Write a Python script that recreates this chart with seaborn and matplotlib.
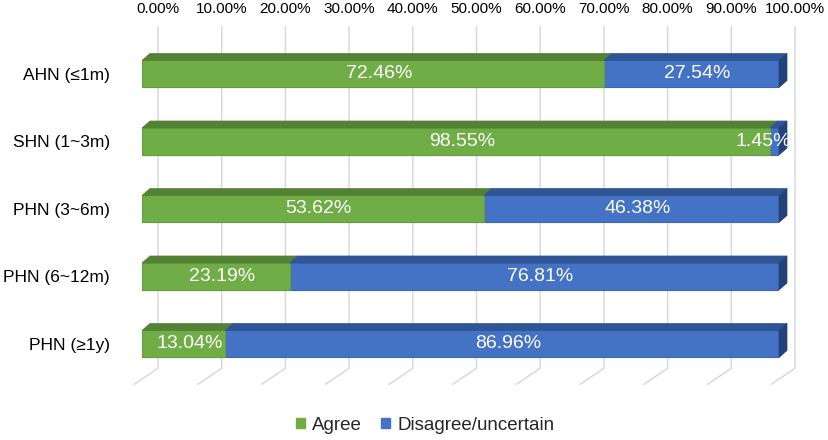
import matplotlib
matplotlib.use("Agg")
import matplotlib.pyplot as plt
import seaborn as sns
import pandas as pd
from matplotlib.patches import Polygon, Patch
from matplotlib.transforms import ScaledTranslation, offset_copy

# ---- data ----
categories = ["AHN (≤1m)", "SHN (1~3m)", "PHN (3~6m)", "PHN (6~12m)", "PHN (≥1y)"]
agree = [72.46, 98.55, 53.62, 23.19, 13.04]
disagree = [27.54, 1.45, 46.38, 76.81, 86.96]
series_names = ["Agree", "Disagree/uncertain"]
x_ticks = [0, 10, 20, 30, 40, 50, 60, 70, 80, 90, 100]
x_tick_labels = [f"{v:.2f}%" for v in x_ticks]

df = pd.DataFrame({"category": categories, "agree": agree, "disagree": disagree})
df["total"] = df["agree"] + df["disagree"]

# colours (Excel style)
GREEN, GREEN_TOP, GREEN_EDGE = "#70AD47", "#548235", "#63A03D"
BLUE, BLUE_TOP, BLUE_SIDE, BLUE_EDGE = "#4472C4", "#2F5597", "#24427A", "#3C68B8"
GRID = "#D9D9D9"

sns.set_style("white")
plt.rcParams["font.family"] = ["Liberation Sans", "DejaVu Sans"]

W, H = 829, 440
fig = plt.figure(figsize=(W / 100, H / 100), dpi=100)
# front plane of the bars
ax = fig.add_axes([142 / W, 1 - 400 / H, 637 / W, 380 / H])

BAR_W = 0.4
sns.barplot(data=df, x="total", y="category", orient="h", color=BLUE, saturation=1,
            width=BAR_W, edgecolor=BLUE_EDGE, linewidth=0.8, ax=ax, zorder=3)
sns.barplot(data=df, x="agree", y="category", orient="h", color=GREEN, saturation=1,
            width=BAR_W, edgecolor=GREEN_EDGE, linewidth=0.8, ax=ax, zorder=3)

n = len(categories)
ax.set_xlim(0, 100)
ax.set_ylim(n - 1 + 0.83, -0.8)
ax.set_xlabel("")
ax.set_ylabel("")
for s in ax.spines.values():
    s.set_visible(False)

# pixel -> data conversion (figure saved at dpi=100 so display units are pixels)
p0 = ax.transData.transform((0, 0))
p1 = ax.transData.transform((1, 1))
sx = p1[0] - p0[0]
sy = p0[1] - p1[1]
ddx, ddy = 8 / sx, -7 / sy          # bar depth
back_dx, front_dx = 16 / sx, -8 / sx  # wall / floor offsets

# back wall grid lines with floor diagonals
y_top, y_wall, y_floor = -0.7, n - 1 + 0.36, n - 1 + 0.6
for v in x_ticks:
    ax.plot([v + front_dx, v + back_dx, v + back_dx], [y_floor, y_wall, y_top],
            color=GRID, lw=1.1, zorder=1, clip_on=False)

# 3D top faces and right side of the stacked bars
half = BAR_W / 2
for i, row in df.iterrows():
    yt, yb = i - half, i + half
    segs = [(0, row["agree"], GREEN_TOP), (row["agree"], row["total"], BLUE_TOP)]
    for a, b, c in segs:
        ax.add_patch(Polygon([(a, yt), (b, yt), (b + ddx, yt + ddy), (a + ddx, yt + ddy)],
                             closed=True, facecolor=c, edgecolor=c, lw=0.5,
                             zorder=4, clip_on=False))
    t = row["total"]
    ax.add_patch(Polygon([(t, yt), (t + ddx, yt + ddy), (t + ddx, yb + ddy), (t, yb)],
                         closed=True, facecolor=BLUE_SIDE, edgecolor=BLUE_SIDE, lw=0.5,
                         zorder=4, clip_on=False))

# value labels
lab_tr = offset_copy(ax.transData, fig=fig, x=6, y=0, units="dots")
end_tr = offset_copy(ax.transData, fig=fig, x=12, y=0, units="dots")
for i, row in df.iterrows():
    for a, w in [(0, row["agree"]), (row["agree"], row["disagree"])]:
        txt = f"{w:.2f}%"
        if w < 5:
            ax.text(a + w, i, txt, color="white", fontsize=14, ha="right",
                    va="center", transform=end_tr, zorder=6)
        else:
            ax.text(a + w / 2, i, txt, color="white", fontsize=14, ha="center",
                    va="center", transform=lab_tr, zorder=6)

# axis ticks
ax.set_xticks(x_ticks)
ax.set_xticklabels(x_tick_labels)
ax.tick_params(axis="x", top=True, labeltop=True, bottom=False, labelbottom=False,
               length=0, pad=3, labelsize=11, labelcolor="black")
for lbl in ax.get_xticklabels():
    lbl.set_transform(lbl.get_transform() + ScaledTranslation(16 / 100, 0, fig.dpi_scale_trans))
ax.tick_params(axis="y", length=0, pad=23, labelsize=12.5, labelcolor="black")

handles = [Patch(color=GREEN, label=series_names[0]), Patch(color=BLUE, label=series_names[1])]
fig.legend(handles=handles, loc="center", bbox_to_anchor=(425 / W, 15 / H), ncol=2,
           frameon=False, fontsize=13.5, handlelength=0.48, handleheight=0.48,
           handletextpad=0.4, columnspacing=1.0)

fig.savefig("out.png", dpi=100)
